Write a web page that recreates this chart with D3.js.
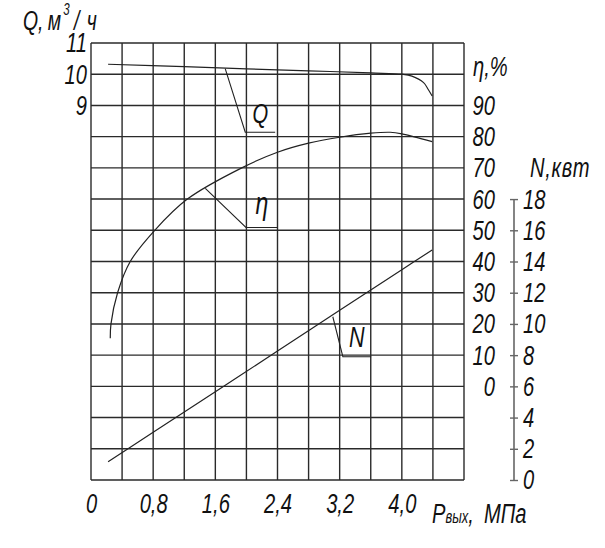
<!DOCTYPE html>
<html>
<head>
<meta charset="utf-8">
<script src="https://cdn.jsdelivr.net/npm/d3@7/dist/d3.min.js"></script>
<style>
  body { margin: 0; background: #fff; }
  text {
    font-family: "Liberation Sans", Arial, sans-serif;
    font-style: italic;
    fill: #111;
  }
</style>
</head>
<body>
<div id="chart-area"></div>
<script>
// grid / tick values
var gridP = [0, 0.4, 0.8, 1.2, 1.6, 2.0, 2.4, 2.8, 3.2, 3.6, 4.0, 4.4, 4.8];
var pLabels = [0, 0.8, 1.6, 2.4, 3.2, 4.0];
var qTicks = [9, 10, 11];
var etaTicks = [0, 10, 20, 30, 40, 50, 60, 70, 80, 90];
var nTicks = [0, 2, 4, 6, 8, 10, 12, 14, 16, 18];

// Q, m3/h  vs  P, MPa
var qP   = [0.22, 1.2, 2.0, 2.8, 3.6, 4.0, 4.13, 4.28, 4.34, 4.39];
var qVal = [10.32, 10.24, 10.17, 10.11, 10.04, 10.0, 9.94, 9.73, 9.51, 9.30];

// efficiency, %
var etaP   = [0.248, 0.257, 0.342, 0.505, 0.82, 1.24, 1.94, 2.40, 2.80, 3.20, 3.60, 3.85, 4.00, 4.39];
var etaVal = [15.4, 20.0, 30.0, 40.0, 50.0, 60.0, 70.0, 75.0, 77.9, 79.8, 81.1, 81.4, 80.9, 78.4];

// power, kW
var nP   = [0.22, 0.8, 1.6, 2.4, 3.2, 4.0, 4.39];
var nVal = [1.17, 3.06, 5.66, 8.26, 10.87, 13.47, 14.74];

// leader lines: [P, value] pairs, and label position
var qLeader = [[1.727, 10.18], [1.985, 8.14], [2.37, 8.14]];
var qLabelPos = [2.18, 8.44];
var etaLeader = [[1.471, 63.4], [1.994, 50.9], [2.40, 50.9]];
var etaLabelPos = [2.20, 55.2];
var nLeader = [[3.112, 10.46], [3.241, 7.90], [3.605, 7.90]];
var nLabelPos = [3.42, 8.52];

var margin = { left: 91, top: 43 };
var width = 373, height = 437;
var squeezeK = 0.72;   // narrow drafting-style lettering

var svg = d3.select("#chart-area")
    .append("svg")
    .attr("width", 605)
    .attr("height", 548);

var g = svg.append("g")
    .attr("transform", "translate(" + margin.left + ", " + margin.top + ")");

var x = d3.scaleLinear().domain([0, 4.8]).range([0, width]);
var yQ = d3.scaleLinear().domain([-3, 11]).range([height, 0]);
var yEta = d3.scaleLinear().domain([-30, 110]).range([height, 0]);
var yN = d3.scaleLinear().domain([0, 28]).range([height, 0]);

function squeeze(sel) {
  sel.each(function () {
    var t = d3.select(this);
    var x0 = +t.attr("x") || 0;
    t.attr("x", x0 / squeezeK)
     .attr("transform", "scale(" + squeezeK + ",1)");
  });
}

// grid
g.selectAll(".vgrid")
  .data(gridP)
  .enter().append("line")
    .attr("x1", d => x(d)).attr("x2", d => x(d))
    .attr("y1", 0).attr("y2", height)
    .attr("stroke", "#2a2a2a").attr("stroke-width", 1.4);

g.selectAll(".hgrid")
  .data(yQ.ticks(14))
  .enter().append("line")
    .attr("x1", 0).attr("x2", width)
    .attr("y1", d => yQ(d)).attr("y2", d => yQ(d))
    .attr("stroke", "#2a2a2a").attr("stroke-width", 1.4);

// curves
function drawCurve(ps, vs, yScale) {
  var pts = ps.map((p, i) => [p, vs[i]]);
  var line = d3.line()
      .x(d => x(d[0]))
      .y(d => yScale(d[1]))
      .curve(d3.curveCatmullRom.alpha(0.5));
  g.append("path")
    .datum(pts)
    .attr("d", line)
    .attr("fill", "none")
    .attr("stroke", "#222")
    .attr("stroke-width", 1.2);
}
drawCurve(qP, qVal, yQ);
drawCurve(etaP, etaVal, yEta);
drawCurve(nP, nVal, yN);

// leaders
function drawLeader(pts, yScale, labelPos, label, size) {
  g.append("path")
    .datum(pts)
    .attr("d", d3.line().x(d => x(d[0])).y(d => yScale(d[1])))
    .attr("fill", "none")
    .attr("stroke", "#222")
    .attr("stroke-width", 1.1);
  g.append("text")
    .attr("x", x(labelPos[0]))
    .attr("y", yScale(labelPos[1]))
    .attr("text-anchor", "middle")
    .style("font-size", size + "px")
    .text(label)
    .call(squeeze);
}
drawLeader(qLeader, yQ, qLabelPos, "Q", 28);
drawLeader(etaLeader, yEta, etaLabelPos, "η", 32);
drawLeader(nLeader, yN, nLabelPos, "N", 30);

// axes
var fmtP = d => d === 0 ? "0" : d3.format(".1f")(d).replace(".", ",");

var xAxis = g.append("g")
    .attr("transform", "translate(0, " + height + ")")
    .call(d3.axisBottom(x).tickValues(pLabels).tickFormat(fmtP).tickSize(0).tickPadding(13));

var qAxis = g.append("g")
    .call(d3.axisLeft(yQ).tickValues(qTicks).tickSize(0).tickPadding(4));

var etaAxis = g.append("g")
    .attr("transform", "translate(" + width + ", 0)")
    .call(d3.axisRight(yEta).tickValues(etaTicks).tickSize(0));
etaAxis.selectAll("text").attr("text-anchor", "end").attr("x", 31);

var nAxis = g.append("g")
    .attr("transform", "translate(423, 0)")
    .call(d3.axisRight(yN).tickValues(nTicks).tickSize(4).tickPadding(5));
nAxis.selectAll(".tick line").attr("x1", -4).attr("x2", 4)
    .attr("stroke", "#666").attr("stroke-width", 1.4);
nAxis.append("line")
    .attr("x1", 0).attr("x2", 0)
    .attr("y1", yN(0)).attr("y2", yN(18))
    .attr("stroke", "#666").attr("stroke-width", 1.6);

[xAxis, qAxis, etaAxis, nAxis].forEach(a => {
  a.select(".domain").remove();
  a.attr("font-family", null).attr("font-size", null);
  a.selectAll("text")
    .style("font-size", "28px")
    .attr("fill", "#111")
    .call(squeeze);
});

// titles
var qTitle = svg.append("text").attr("x", 23).attr("y", 30).style("font-size", "27px");
qTitle.append("tspan").text("Q,");
qTitle.append("tspan").attr("dx", 6).text("м");
qTitle.append("tspan").attr("dx", 3).attr("dy", -15).style("font-size", "16px").text("3");
qTitle.append("tspan").attr("dx", 6).attr("dy", 15).text("/");
qTitle.append("tspan").attr("dx", 10).text("ч");
squeeze(qTitle);

svg.append("text").attr("x", 473).attr("y", 76).style("font-size", "28px").text("η,%").call(squeeze);
svg.append("text").attr("x", 530).attr("y", 177).style("font-size", "28px")
    .style("letter-spacing", "1px").text("N,квт").call(squeeze);

var pTitle = svg.append("text").attr("x", 432).attr("y", 523).style("font-size", "28px");
pTitle.append("tspan").text("P");
pTitle.append("tspan").style("font-size", "18px").text("вых");
pTitle.append("tspan").text(",");
pTitle.append("tspan").attr("dx", 14).text("МПа");
squeeze(pTitle);
</script>
</body>
</html>
